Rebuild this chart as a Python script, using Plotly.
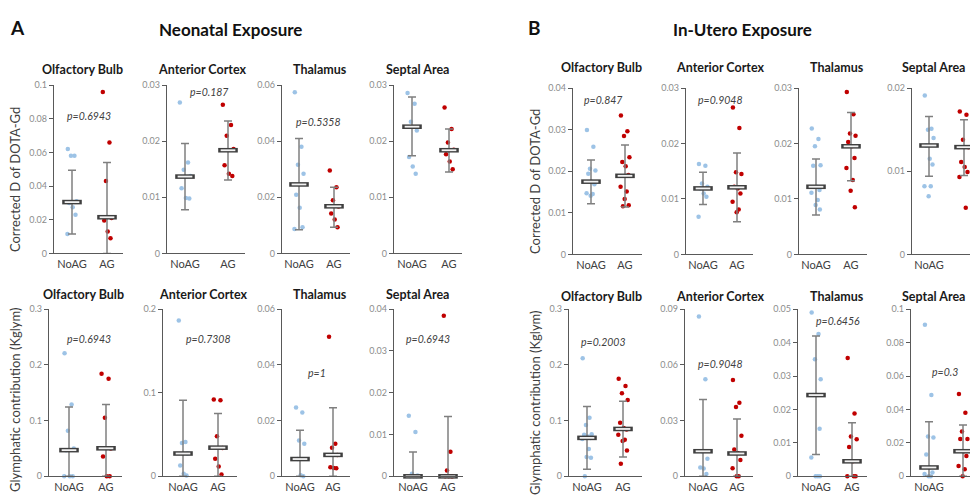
import plotly.graph_objects as go

regions = ["Olfactory Bulb", "Anterior Cortex", "Thalamus", "Septal Area"]
groups = ["NoAG", "AG"]

# ---------------- Neonatal exposure: corrected D of DOTA-Gd ----------------
neo_d_noag = [
    [0.062, 0.058, 0.058, 0.031, 0.030, 0.0275, 0.023, 0.0115],
    [0.0269, 0.0162, 0.0149, 0.0138, 0.0116, 0.0099, 0.0098],
    [0.0575, 0.038, 0.0316, 0.0284, 0.0209, 0.0163, 0.0093, 0.0087],
    [0.0286, 0.0267, 0.0235, 0.0219, 0.0172, 0.0155, 0.0142],
]
neo_d_ag = [
    [0.096, 0.066, 0.043, 0.021, 0.0195, 0.013, 0.009],
    [0.0265, 0.0229, 0.021, 0.0186, 0.0157, 0.0142, 0.0138],
    [0.0296, 0.0236, 0.019, 0.0167, 0.0142, 0.0121, 0.0093],
    [0.026, 0.0222, 0.0198, 0.0185, 0.0177, 0.0164, 0.015],
]
neo_d_mid = [[0.0305, 0.0215], [0.0137, 0.0184], [0.0246, 0.0168], [0.0226, 0.0184]]
neo_d_lo = [[0.0115, 0.0], [0.0078, 0.0131], [0.0084, 0.0093], [0.0174, 0.0145]]
neo_d_hi = [[0.0495, 0.054], [0.0196, 0.0236], [0.041, 0.0236], [0.0279, 0.0222]]
neo_d_p = ["p=0.6943", "p=0.187", "p=0.5358", "p=0.3969"]
neo_d_ymax = [0.1, 0.03, 0.06, 0.03]
neo_d_dtick = [0.02, 0.01, 0.02, 0.01]

# ---------------- Neonatal exposure: glymphatic contribution ----------------
neo_k_noag = [
    [0.221, 0.129, 0.082, 0.05, 0.047, 0.0, 0.0, 0.0],
    [0.1864, 0.041, 0.040, 0.0273, 0.0129, 0.003, 0.001],
    [0.0247, 0.0229, 0.0129, 0.0117, 0.0062, 0.0004, 0.0],
    [0.0145, 0.0106, 0.0006, 0.0002, 0.0, 0.0, 0.0],
]
neo_k_ag = [
    [0.184, 0.175, 0.105, 0.050, 0.0357, 0.0, 0.0],
    [0.092, 0.091, 0.048, 0.034, 0.021, 0.0117, 0.0023],
    [0.0501, 0.0117, 0.0103, 0.0077, 0.0033, 0.003, 0.0029],
    [0.0384, 0.0059, 0.0014, 0.0, 0.0, 0.0, 0.0],
]
neo_k_mid = [[0.047, 0.0503], [0.0273, 0.0343], [0.0062, 0.0077], [0.0, 0.0]]
neo_k_lo = [[0.0, 0.0], [0.0, 0.0], [0.0, 0.0], [0.0, 0.0]]
neo_k_hi = [[0.1245, 0.1287], [0.091, 0.0752], [0.0165, 0.0246], [0.0058, 0.0143]]
neo_k_p = ["p=0.6943", "p=0.7308", "p=1", "p=0.6943"]
neo_k_ymax = [0.3, 0.2, 0.06, 0.04]
neo_k_dtick = [0.1, 0.1, 0.02, 0.01]

# ---------------- In-utero exposure: corrected D of DOTA-Gd ----------------
ute_d_noag = [
    [0.0299, 0.0259, 0.0206, 0.0202, 0.0194, 0.0175, 0.0169, 0.0147, 0.0145, 0.0141],
    [0.0163, 0.016, 0.0128, 0.0122, 0.0119, 0.011, 0.0104, 0.0068],
    [0.0227, 0.0208, 0.0195, 0.0161, 0.016, 0.0122, 0.0116, 0.0111, 0.0098, 0.0089, 0.0081],
    [0.0191, 0.0151, 0.015, 0.014, 0.0131, 0.0115, 0.0108, 0.0082, 0.0082, 0.007],
]
ute_d_ag = [
    [0.0334, 0.0296, 0.0285, 0.0234, 0.0222, 0.0212, 0.0191, 0.0163, 0.0151, 0.0133, 0.0118, 0.0116],
    [0.0265, 0.0228, 0.0148, 0.0145, 0.0122, 0.0119, 0.011, 0.0095, 0.0081, 0.0076],
    [0.0293, 0.0253, 0.0218, 0.0214, 0.0203, 0.0195, 0.0174, 0.0156, 0.0134, 0.0115, 0.0085],
    [0.0172, 0.0168, 0.0138, 0.0129, 0.0111, 0.0105, 0.0099, 0.0093, 0.0056],
]
ute_d_mid = [[0.0175, 0.0189], [0.0119, 0.0121], [0.0122, 0.0195], [0.0131, 0.0129]]
ute_d_lo = [[0.0122, 0.0114], [0.009, 0.0059], [0.0071, 0.0133], [0.0094, 0.0095]]
ute_d_hi = [[0.0227, 0.0263], [0.0148, 0.0183], [0.0172, 0.0256], [0.0166, 0.0162]]
ute_d_p = ["p=0.847", "p=0.9048", "p=0.7969", "p=0.1164"]
ute_d_ymax = [0.04, 0.03, 0.03, 0.02]
ute_d_dtick = [0.01, 0.01, 0.01, 0.01]

# ---------------- In-utero exposure: glymphatic contribution ----------------
ute_k_noag = [
    [0.212, 0.105, 0.092, 0.0756, 0.0744, 0.0715, 0.069, 0.0668, 0.049, 0.0346, 0.0334, 0.0],
    [0.086, 0.0522, 0.0135, 0.0095, 0.0047, 0.0042, 0.0012],
    [0.049, 0.0426, 0.035, 0.029, 0.0243, 0.0243, 0.0142, 0.0056, 0.0, 0.0, 0.0],
    [0.0906, 0.0486, 0.0238, 0.0232, 0.0131, 0.0053, 0.0023, 0.0014, 0.0, 0.0],
]
ute_k_ag = [
    [0.175, 0.162, 0.149, 0.137, 0.096, 0.0867, 0.084, 0.0744, 0.0656, 0.0633, 0.0463, 0.0228],
    [0.0519, 0.0396, 0.0373, 0.0218, 0.0144, 0.0125, 0.0088, 0.0044, 0.0, 0.0],
    [0.0354, 0.0188, 0.0119, 0.0111, 0.0088, 0.0045, 0.0, 0.0, 0.0],
    [0.0492, 0.0381, 0.0268, 0.0223, 0.0223, 0.015, 0.0121, 0.0062, 0.0043, 0.0],
]
ute_k_mid = [[0.069, 0.085], [0.0135, 0.0123], [0.0243, 0.0045], [0.0053, 0.015]]
ute_k_lo = [[0.0129, 0.0346], [0.0, 0.0], [0.0065, 0.0], [0.0, 0.0]]
ute_k_hi = [[0.1254, 0.1347], [0.0413, 0.0308], [0.042, 0.016], [0.0326, 0.0307]]
ute_k_p = ["p=0.2003", "p=0.9048", "p=0.6456", "p=0.3"]
ute_k_ymax = [0.3, 0.09, 0.05, 0.1]
ute_k_dtick = [0.1, 0.03, 0.01, 0.02]

# ---------------- page layout (pixels) ----------------
W, H = 970, 496
FONT = "Lato"
C_NOAG = "#9DC3E6"
C_AG = "#C00000"
C_AXIS = "#595959"
C_WHISK = "#7F7F7F"

# per block: rows (top, bottom), per panel (axis left, NoAG x, AG x, axis right),
# title centres and p-label placement (x centre, y in data units)
blocks = [
    dict(data=(neo_d_noag, neo_d_ag, neo_d_mid, neo_d_lo, neo_d_hi, neo_d_p, neo_d_ymax, neo_d_dtick),
         rows=(81, 253), title_y=65,
         geom=[(54, 72, 107, 123), (167, 185, 228, 245), (282, 299, 334, 350), (394, 412, 449, 462)],
         title_x=[82, 202, 320, 417],
         ppos=[(89, 0.0816), (209, 0.0287), (318, 0.047), (430, 0.0301)]),
    dict(data=(ute_d_noag, ute_d_ag, ute_d_mid, ute_d_lo, ute_d_hi, ute_d_p, ute_d_ymax, ute_d_dtick),
         rows=(84, 254), title_y=63,
         geom=[(573, 591, 625, 642), (686, 703, 737, 753), (799, 816, 851, 867), (912, 929, 964, 970)],
         title_x=[601, 720, 837, 933],
         ppos=[(603, 0.0371), (720, 0.0278), (834, 0.0307), (938, 0.0204)]),
    dict(data=(neo_k_noag, neo_k_ag, neo_k_mid, neo_k_lo, neo_k_hi, neo_k_p, neo_k_ymax, neo_k_dtick),
         rows=(310, 481), title_y=295,
         geom=[(49, 69, 106, 122), (163, 183, 218, 237), (282, 300, 333, 350), (394, 413, 448, 463)],
         title_x=[83, 203, 320, 417],
         ppos=[(89, 0.246), (208, 0.1645), (317, 0.0372), (428, 0.0329)]),
    dict(data=(ute_k_noag, ute_k_ag, ute_k_mid, ute_k_lo, ute_k_hi, ute_k_p, ute_k_ymax, ute_k_dtick),
         rows=(310, 481), title_y=297,
         geom=[(569, 587, 623, 642), (685, 703, 737, 753), (798, 816, 852, 867), (911, 929, 963, 970)],
         title_x=[601, 720, 837, 933],
         ppos=[(603, 0.2414), (720, 0.0605), (838, 0.0463), (945, 0.0623)]),
]

# horizontal spread of the dots around each category (fraction of category spacing)
jitter = [-0.12, 0.07, -0.03, 0.13, -0.08, 0.02, 0.10, -0.13, 0.05, -0.01, 0.11, -0.06]

fig = go.Figure()
layout = dict(width=W, height=H, margin=dict(l=0, r=0, t=0, b=0),
              paper_bgcolor="white", plot_bgcolor="white", showlegend=False,
              font=dict(family=FONT, color="#404040"))
annotations = []

n = 0
for blk in blocks:
    noag, ag, mid, lo, hi, ptxt, ymax, dtick = blk["data"]
    top, bot = blk["rows"]
    for i in range(4):
        n += 1
        xa = "x" if n == 1 else f"x{n}"
        ya = "y" if n == 1 else f"y{n}"
        left, xn, xg, right = blk["geom"][i]
        unit = xg - xn
        layout["xaxis" if n == 1 else f"xaxis{n}"] = dict(
            domain=[left / W, min(right / W, 1.0)],
            range=[(left - xn) / unit, (right - xn) / unit],
            anchor=ya, tickvals=[0, 1], ticktext=groups,
            showline=True, linecolor=C_AXIS, linewidth=1.3, ticks="",
            showgrid=False, zeroline=False, fixedrange=True,
            tickfont=dict(family=FONT, size=11, color="#404040"))
        layout["yaxis" if n == 1 else f"yaxis{n}"] = dict(
            domain=[1 - bot / H, 1 - top / H], range=[0, ymax[i]],
            tick0=0, dtick=dtick[i], anchor=xa,
            showline=True, linecolor=C_AXIS, linewidth=1.3,
            ticks="outside", ticklen=4, tickcolor=C_AXIS, tickwidth=1,
            showgrid=False, zeroline=False, fixedrange=True,
            tickfont=dict(family=FONT, size=9, color="#8C8C8C"))

        for g, (vals, col) in enumerate(((noag[i], C_NOAG), (ag[i], C_AG))):
            xs = [g + jitter[k % len(jitter)] for k in range(len(vals))]
            fig.add_trace(go.Scatter(
                x=xs, y=vals, mode="markers", xaxis=xa, yaxis=ya, cliponaxis=False,
                marker=dict(size=4.5, color=col, line=dict(width=0)), hoverinfo="y"))

        # whiskers
        fig.add_trace(go.Scatter(
            x=[0, 1], y=mid[i], mode="markers", xaxis=xa, yaxis=ya, cliponaxis=False,
            marker=dict(size=1, color="rgba(0,0,0,0)"),
            error_y=dict(type="data", symmetric=False,
                         array=[hi[i][k] - mid[i][k] for k in range(2)],
                         arrayminus=[mid[i][k] - lo[i][k] for k in range(2)],
                         color=C_WHISK, thickness=1.5, width=4),
            hoverinfo="skip"))
        # centre bar: dark outline with light interior
        fig.add_trace(go.Scatter(
            x=[0, 1], y=mid[i], mode="markers", xaxis=xa, yaxis=ya, cliponaxis=False,
            marker=dict(symbol="line-ew", size=14, line=dict(width=4.6, color="#3F3F3F")),
            hoverinfo="skip"))
        fig.add_trace(go.Scatter(
            x=[0, 1], y=mid[i], mode="markers", xaxis=xa, yaxis=ya, cliponaxis=False,
            marker=dict(symbol="line-ew", size=10.5, line=dict(width=1.8, color="#F2F2F2")),
            hoverinfo="y"))

        annotations.append(dict(
            text=f"<b>{regions[i]}</b>", x=blk["title_x"][i] / W, y=1 - blk["title_y"] / H,
            xref="paper", yref="paper", showarrow=False, xanchor="center", yanchor="middle",
            font=dict(family=FONT, size=12.5, color="#1A1A1A")))
        px, py = blk["ppos"][i]
        annotations.append(dict(
            text=f"<i>{ptxt[i]}</i>", x=px / W, y=py, xref="paper", yref=ya,
            showarrow=False, xanchor="center", yanchor="middle",
            font=dict(family=FONT, size=10.5, color="#404040")))

# panel letters, section headings and shared y-axis titles
for txt, x, y, size in [("A", 17, 22, 19), ("B", 534, 22, 19),
                        ("Neonatal Exposure", 230, 24, 17), ("In-Utero Exposure", 742, 24, 17)]:
    annotations.append(dict(text=f"<b>{txt}</b>", x=x / W, y=1 - y / H, xref="paper", yref="paper",
                            showarrow=False, xanchor="center", yanchor="middle",
                            font=dict(family=FONT, size=size, color="#111111")))
for txt, x, y in [("Corrected D of DOTA-Gd", 15, 178), ("Corrected D of DOTA-Gd", 535, 180),
                  ("Glymphatic contribution (Kglym)", 15, 403), ("Glymphatic contribution (Kglym)", 535, 406)]:
    annotations.append(dict(text=txt, x=x / W, y=1 - y / H, xref="paper", yref="paper",
                            showarrow=False, textangle=-90, xanchor="center", yanchor="middle",
                            font=dict(family=FONT, size=13, color="#404040")))

layout["annotations"] = annotations
fig.update_layout(**layout)
fig.write_html("out.html")
